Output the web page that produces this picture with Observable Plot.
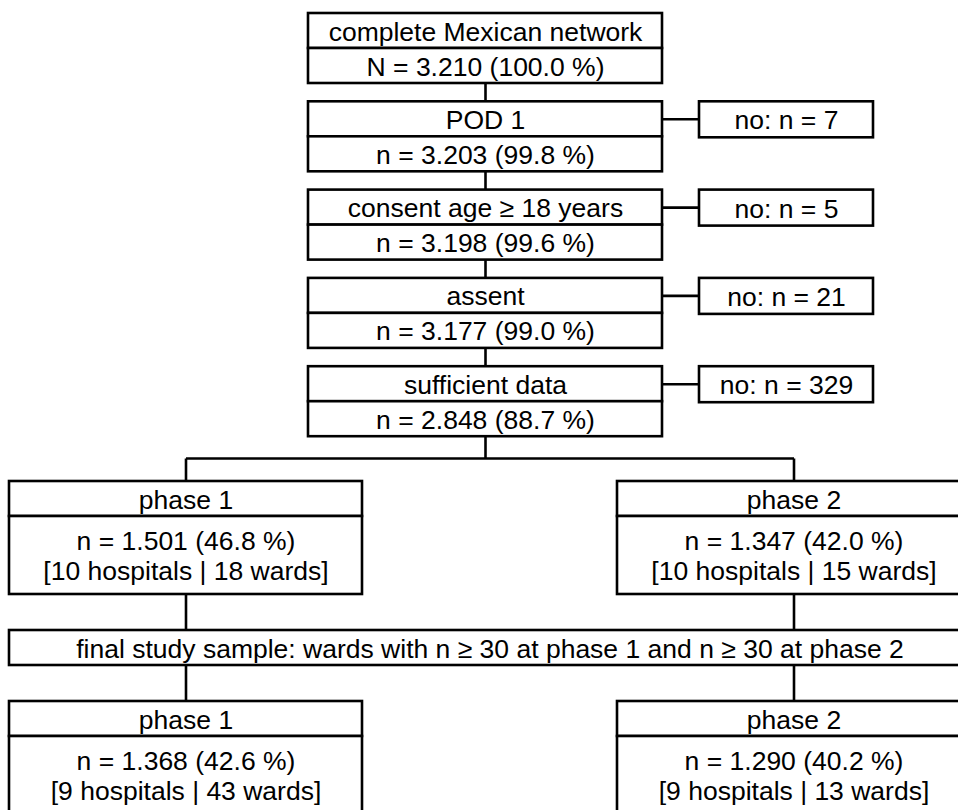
<!DOCTYPE html>
<html>
<head>
<meta charset="utf-8">
<script src="https://cdn.jsdelivr.net/npm/d3@7"></script>
<script src="https://cdn.jsdelivr.net/npm/@observablehq/plot@0.6"></script>
<style>
  html, body { margin: 0; padding: 0; background: #fff; overflow: hidden; }
  svg { overflow: hidden; display: block; }
</style>
</head>
<body>
<div id="chart"></div>
<script>
// ---- data ----
const stageLabels = ["complete Mexican network", "POD 1", "consent age ≥ 18 years", "assent", "sufficient data"];
const stageN = [3210, 3203, 3198, 3177, 2848];
const stagePct = [100.0, 99.8, 99.6, 99.0, 88.7];
const excludedN = [null, 7, 5, 21, 329];

const phaseLabels = ["phase 1", "phase 2"];
const phaseN = [1501, 1347];
const phasePct = [46.8, 42.0];
const phaseHospitals = [10, 10];
const phaseWards = [18, 15];

const finalLabel = "final study sample: wards with n ≥ 30 at phase 1 and n ≥ 30 at phase 2";
const finalN = [1368, 1290];
const finalPct = [42.6, 40.2];
const finalHospitals = [9, 9];
const finalWards = [43, 13];

// ---- layout ----
const W = 958, H = 810;
const fmtN = d => d3.format(",")(d).replace(/,/g, ".");
const mainX1 = 308, mainX2 = 662, mainCx = (mainX1 + mainX2) / 2;
const top0 = 13, step = 88.3, headH = 35, bodyH = 35;
const sideX1 = 699, sideX2 = 873, sideH = 36;
const phaseW = 353, phaseX1 = [9, 617];
const phaseCx = phaseX1.map(x => x + phaseW / 2);
const branchY = 458, phaseTop = 481, phaseHead = 35, phaseBodyH = 78;
const finalTop = 630, finalH = 35, finalX1 = 9, finalX2 = 970;
const botTop = 701;

const rects = [];   // {x1,x2,y1,y2}
const texts = [];   // {x,y,text}
const links = [];   // {x1,y1,x2,y2}

stageLabels.forEach((label, i) => {
  const t = top0 + i * step;
  rects.push({x1: mainX1, x2: mainX2, y1: t, y2: t + headH});
  rects.push({x1: mainX1, x2: mainX2, y1: t + headH, y2: t + headH + bodyH});
  texts.push({x: mainCx, y: t + headH / 2, text: label});
  texts.push({x: mainCx, y: t + headH + bodyH / 2,
    text: `${i === 0 ? "N" : "n"} = ${fmtN(stageN[i])} (${stagePct[i].toFixed(1)} %)`});
  if (i > 0) {
    links.push({x1: mainCx, y1: t - step + headH + bodyH, x2: mainCx, y2: t});
  }
  if (excludedN[i] != null) {
    rects.push({x1: sideX1, x2: sideX2, y1: t, y2: t + sideH});
    texts.push({x: (sideX1 + sideX2) / 2, y: t + sideH / 2, text: `no: n = ${excludedN[i]}`});
    links.push({x1: mainX2, y1: t + headH / 2, x2: sideX1, y2: t + headH / 2});
  }
});

const lastBottom = top0 + (stageLabels.length - 1) * step + headH + bodyH;
links.push({x1: mainCx, y1: lastBottom, x2: mainCx, y2: branchY});
links.push({x1: phaseCx[0], y1: branchY, x2: phaseCx[1], y2: branchY});

const phaseBox = (k, top, label, n, pct, hosp, wards) => {
  const x1 = phaseX1[k], x2 = x1 + phaseW, cx = phaseCx[k];
  rects.push({x1, x2, y1: top, y2: top + phaseHead});
  rects.push({x1, x2, y1: top + phaseHead, y2: top + phaseHead + phaseBodyH});
  texts.push({x: cx, y: top + phaseHead / 2, text: label});
  texts.push({x: cx, y: top + phaseHead + phaseBodyH / 2,
    text: `n = ${fmtN(n)} (${pct.toFixed(1)} %)\n[${hosp} hospitals | ${wards} wards]`});
};

phaseLabels.forEach((label, k) => {
  links.push({x1: phaseCx[k], y1: branchY, x2: phaseCx[k], y2: phaseTop});
  phaseBox(k, phaseTop, label, phaseN[k], phasePct[k], phaseHospitals[k], phaseWards[k]);
  links.push({x1: phaseCx[k], y1: phaseTop + phaseHead + phaseBodyH, x2: phaseCx[k], y2: finalTop});
  links.push({x1: phaseCx[k], y1: finalTop + finalH, x2: phaseCx[k], y2: botTop});
  phaseBox(k, botTop, label, finalN[k], finalPct[k], finalHospitals[k], finalWards[k]);
});
rects.push({x1: finalX1, x2: finalX2, y1: finalTop, y2: finalTop + finalH});
texts.push({x: (finalX1 + finalX2) / 2, y: finalTop + finalH / 2, text: finalLabel});

const chart = Plot.plot({
  width: W,
  height: H,
  margin: 0,
  style: {background: "#fff", fontFamily: "'Liberation Sans', Arial, sans-serif"},
  x: {domain: [0, W], range: [0, W], axis: null},
  y: {domain: [0, H], range: [0, H], axis: null},
  marks: [
    Plot.link(links, {x1: "x1", y1: "y1", x2: "x2", y2: "y2", stroke: "#000", strokeWidth: 2.6}),
    Plot.rect(rects, {x1: "x1", x2: "x2", y1: "y1", y2: "y2", fill: "#fff", stroke: "#000", strokeWidth: 2.6}),
    Plot.text(texts, {x: "x", y: "y", text: "text", fontSize: 26.5, fill: "#000",
      textAnchor: "middle", lineAnchor: "middle", lineHeight: 1.13,
      fontFamily: "'Liberation Sans', Arial, sans-serif"})
  ]
});
document.getElementById("chart").appendChild(chart);
</script>
</body>
</html>
